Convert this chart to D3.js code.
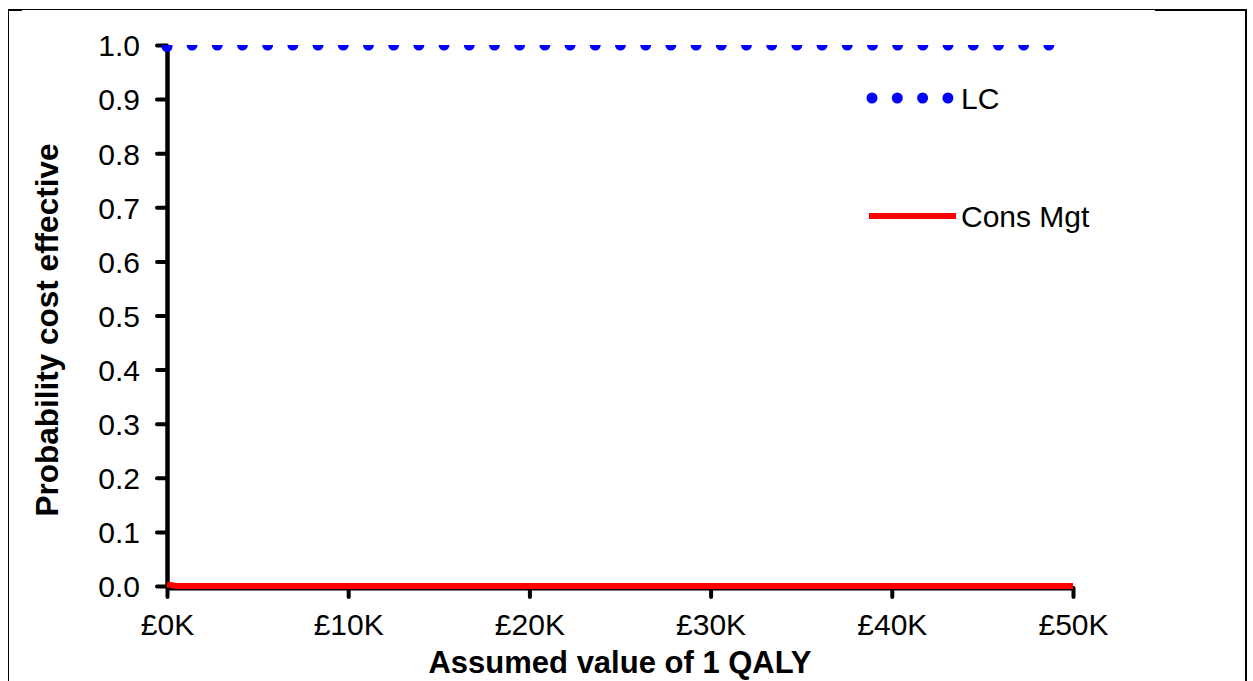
<!DOCTYPE html>
<html>
<head>
<meta charset="utf-8">
<script src="https://cdn.jsdelivr.net/npm/d3@7"></script>
<style>
  body { margin: 0; background: #fff; }
  svg { display: block; font-family: Arial, 'Liberation Sans', sans-serif; }
</style>
</head>
<body>
<script>
// willingness-to-pay values (GBP) and probability each option is cost effective
const wtp = [0, 500, 1000, 10000, 20000, 30000, 40000, 50000];
const lcProb = [0.997, 1, 1, 1, 1, 1, 1, 1];
const consProb = [0.003, 0, 0, 0, 0, 0, 0, 0];
const yTicks = [0, 0.1, 0.2, 0.3, 0.4, 0.5, 0.6, 0.7, 0.8, 0.9, 1.0];
const xTicks = [0, 10000, 20000, 30000, 40000, 50000];

const width = 1253;
const height = 681;

const xScale = d3.scaleLinear().domain([0, 50000]).range([167, 1073]);
const yScale = d3.scaleLinear().domain([0, 1]).range([586, 45]);

const svg = d3.select('body').append('svg')
  .attr('width', width)
  .attr('height', height);

// outer frame
svg.append('line').attr('x1', 8).attr('x2', 1247).attr('y1', 9.5).attr('y2', 9.5)
  .attr('stroke', '#000').attr('stroke-width', 1);
svg.append('line').attr('x1', 8).attr('x2', 22).attr('y1', 10).attr('y2', 10)
  .attr('stroke', '#000').attr('stroke-width', 2);
svg.append('line').attr('x1', 1155).attr('x2', 1247).attr('y1', 10).attr('y2', 10)
  .attr('stroke', '#000').attr('stroke-width', 2);
svg.append('line').attr('x1', 8.5).attr('x2', 8.5).attr('y1', 9).attr('y2', height)
  .attr('stroke', '#000').attr('stroke-width', 1);
svg.append('line').attr('x1', 1246).attr('x2', 1246).attr('y1', 9).attr('y2', height)
  .attr('stroke', '#000').attr('stroke-width', 2);

svg.append('clipPath').attr('id', 'plot-clip')
  .append('rect')
  .attr('x', 160).attr('y', 45)
  .attr('width', 930).attr('height', 545);

// x axis
const xAxis = svg.append('g')
  .attr('transform', `translate(0,${yScale(0) + 2})`)
  .call(d3.axisBottom(xScale).tickValues(xTicks).tickSize(9).tickSizeOuter(0)
    .tickFormat((d) => '£' + d / 1000 + 'K'));
xAxis.select('.domain').attr('stroke-width', 4);
xAxis.selectAll('.tick line').attr('stroke-width', 4).attr('stroke-linecap', 'round');
xAxis.selectAll('.tick text')
  .attr('font-size', 30).attr('font-family', null).attr('fill', '#000')
  .attr('dy', null).attr('y', 47);

// y axis
const yAxis = svg.append('g')
  .attr('transform', `translate(${xScale(0)},0)`)
  .call(d3.axisLeft(yScale).tickValues(yTicks).tickSize(10).tickSizeOuter(0)
    .tickFormat(d3.format('.1f')));
yAxis.select('.domain').attr('stroke-width', 4.5);
yAxis.selectAll('.tick line').attr('stroke-width', 4).attr('stroke-linecap', 'round');
yAxis.selectAll('.tick text')
  .attr('font-size', 30).attr('font-family', null).attr('fill', '#000')
  .attr('x', -27).attr('dy', '0.36em');

const plot = svg.append('g').attr('clip-path', 'url(#plot-clip)');

const line = (vals) => d3.line()
  .x((d, i) => xScale(wtp[i]))
  .y((d) => yScale(d))(vals);

plot.append('path')
  .attr('d', line(consProb))
  .attr('fill', 'none')
  .attr('stroke', '#ff0000')
  .attr('stroke-width', 6);

plot.append('path')
  .attr('d', line(lcProb))
  .attr('fill', 'none')
  .attr('stroke', '#0000ff')
  .attr('stroke-width', 11)
  .attr('stroke-linecap', 'round')
  .attr('stroke-dasharray', '0 25.2');

// legend
svg.append('line')
  .attr('x1', 872).attr('x2', 948).attr('y1', 98).attr('y2', 98)
  .attr('stroke', '#0000ff').attr('stroke-width', 11)
  .attr('stroke-linecap', 'round').attr('stroke-dasharray', '0 25.3');
svg.append('text').attr('x', 961).attr('y', 98).attr('dy', '0.36em')
  .attr('font-size', 30).text('LC');
svg.append('line')
  .attr('x1', 869).attr('x2', 956).attr('y1', 216).attr('y2', 216)
  .attr('stroke', '#ff0000').attr('stroke-width', 6);
svg.append('text').attr('x', 961).attr('y', 216).attr('dy', '0.36em')
  .attr('font-size', 30).text('Cons Mgt');

// axis titles
svg.append('text')
  .attr('x', 620).attr('y', 673)
  .attr('text-anchor', 'middle')
  .attr('font-size', 31).attr('font-weight', 'bold')
  .text('Assumed value of 1 QALY');
svg.append('text')
  .attr('transform', 'translate(58,330) rotate(-90)')
  .attr('text-anchor', 'middle')
  .attr('font-size', 31.5).attr('font-weight', 'bold')
  .text('Probability cost effective');
</script>
</body>
</html>
